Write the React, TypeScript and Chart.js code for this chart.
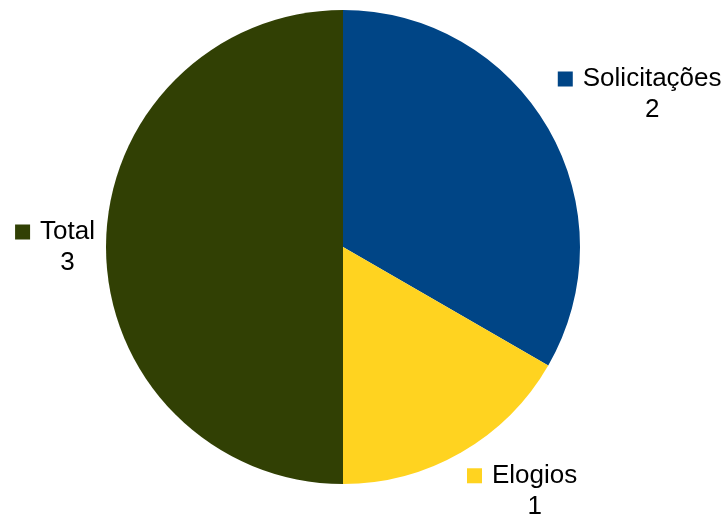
import React, { useEffect, useRef } from "react";
import { Chart, registerables } from "chart.js";

Chart.register(...registerables);

const categories = ["Solicitações", "Elogios", "Total"];
const values = [2, 1, 3];
const colors = ["#004586", "#ffd320", "#314004"];

const FONT = "26px 'Liberation Sans', Arial, sans-serif";

const outsideLabels = {
  id: "outsideLabels",
  afterDatasetsDraw(chart: any) {
    const ctx = chart.ctx;
    const meta = chart.getDatasetMeta(0);
    const labels = chart.data.labels as string[];
    const data = chart.data.datasets[0].data as number[];
    const bg = chart.data.datasets[0].backgroundColor as string[];
    ctx.save();
    ctx.font = FONT;
    ctx.textBaseline = "middle";
    const sq = 15;
    const sqGap = 10;
    const gap = 11;
    const boxH = 58;
    meta.data.forEach((arc: any, i: number) => {
      const { x, y, startAngle, endAngle, outerRadius } = arc.getProps(
        ["x", "y", "startAngle", "endAngle", "outerRadius"],
        true
      );
      const mid = (startAngle + endAngle) / 2;
      const dx = Math.cos(mid);
      const dy = Math.sin(mid);
      const px = x + dx * (outerRadius + gap);
      const py = y + dy * (outerRadius + gap);
      const text = labels[i];
      const tw = ctx.measureText(text).width;
      const boxW = sq + sqGap + tw;
      let left: number;
      if (dx > 0.1) left = px;
      else if (dx < -0.1) left = px - boxW;
      else left = px - boxW / 2;
      let top: number;
      if (dy > 0.1) top = py;
      else if (dy < -0.1) top = py - boxH;
      else top = py - boxH / 2;
      const l1 = top + 14;
      const l2 = top + 45;
      ctx.fillStyle = bg[i];
      ctx.fillRect(left, l1 - sq / 2, sq, sq);
      ctx.fillStyle = "#000000";
      ctx.textAlign = "left";
      const tx = left + sq + sqGap;
      ctx.fillText(text, tx, l1);
      ctx.textAlign = "center";
      ctx.fillText(String(data[i]), tx + tw / 2, l2);
    });
    ctx.restore();
  },
};

export default function App() {
  const ref = useRef<HTMLCanvasElement>(null);
  useEffect(() => {
    document.body.style.margin = "0";
    const chart = new Chart(ref.current!, {
      type: "pie",
      data: {
        labels: categories,
        datasets: [
          {
            data: values,
            backgroundColor: colors,
            borderWidth: 0,
          },
        ],
      },
      options: {
        responsive: false,
        animation: false,
        layout: { padding: { left: 106, right: 146, top: 10, bottom: 31 } },
        plugins: {
          legend: { display: false },
          tooltip: { enabled: false },
        },
      },
      plugins: [outsideLabels],
    });
    return () => chart.destroy();
  }, []);
  return (
    <div style={{ position: "absolute", left: 0, top: 0, width: 726, height: 515, background: "#fff" }}>
      <canvas ref={ref} width={726} height={515} />
    </div>
  );
}
